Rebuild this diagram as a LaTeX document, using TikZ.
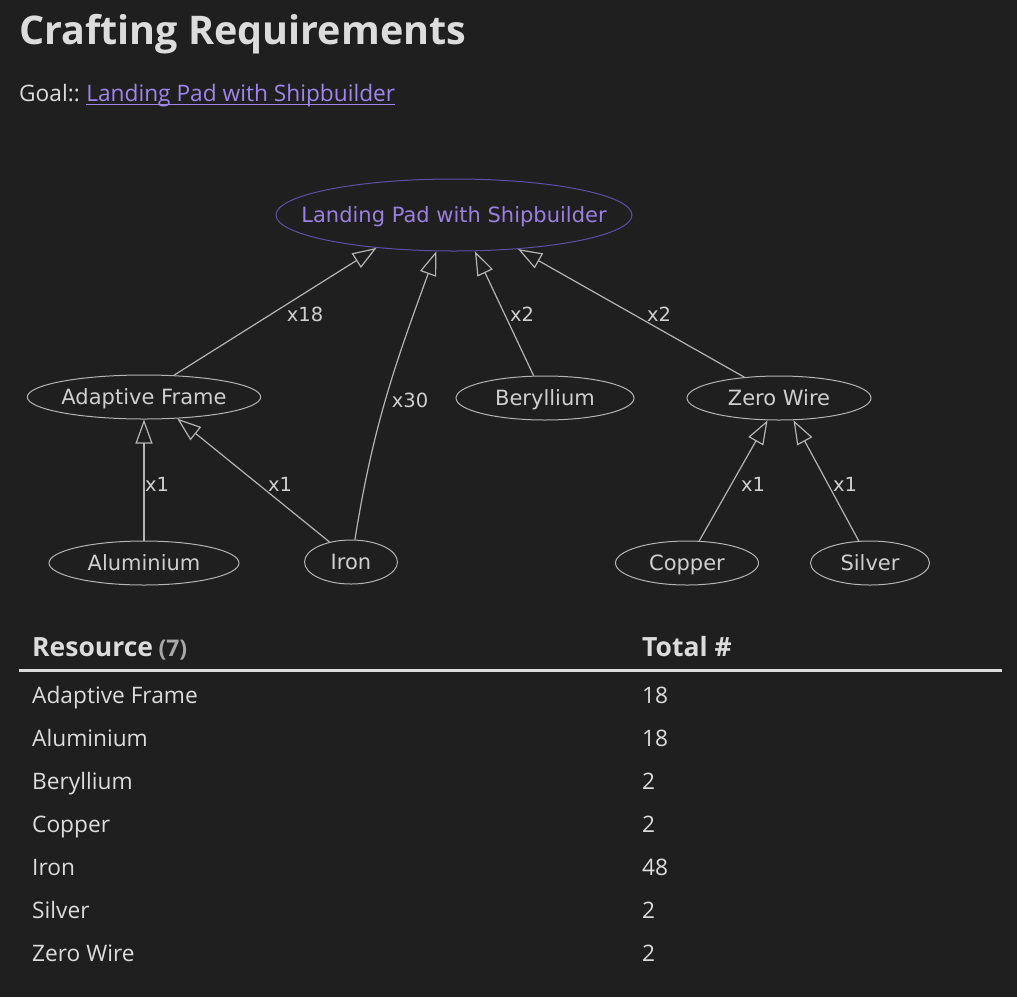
\documentclass[tikz,border=0pt]{standalone}
\usepackage{fontspec}
\setmainfont{Open Sans}
\newfontfamily\graphfont{DejaVu Sans}
\usetikzlibrary{arrows.meta,shapes.geometric}
\definecolor{bg}{HTML}{1F1F1F}
\definecolor{txt}{HTML}{DCDCDC}
\definecolor{dimtxt}{HTML}{A8A8A8}
\definecolor{link}{HTML}{9E86EA}
\definecolor{gline}{HTML}{B4B4B4}
\definecolor{gtext}{HTML}{CFCFCF}
\definecolor{gpurple}{HTML}{9A80E0}
\definecolor{gpurpleline}{HTML}{5E4FA6}
\tikzset{
  gnode/.style={ellipse, draw=gline, line width=1pt, inner sep=0pt, text=gtext,
    text height=15pt, text depth=0pt,
    font=\graphfont\fontsize{21}{24}\selectfont},
  goalnode/.style={gnode, draw=gpurpleline, text=gpurple, inner xsep=-27pt},
  lbl/.style={text=gtext, inner sep=0pt, font=\graphfont\fontsize{19.5}{22}\selectfont},
  req/.style={draw=gline, line width=1.2pt, -{Triangle[open, length=24pt, width=17pt, line width=1.2pt]}},
  mdtext/.style={text=txt, inner sep=0pt, anchor=base west, font=\fontsize{22.7}{26}\selectfont},
  mdhead/.style={text=txt, inner sep=0pt, anchor=base west, font=\bfseries\fontsize{26.5}{30}\selectfont},
}
\begin{document}
\begin{tikzpicture}[x=1pt, y=-1pt]
\useasboundingbox (0,0) rectangle (1017,997);
\fill[bg] (0,0) rectangle (1017,997);

% heading
\node[text=txt, inner sep=0pt, anchor=base west, font=\bfseries\fontsize{39.5}{44}\selectfont] (title) at (19,44) {Crafting Requirements};
\node[mdtext] (goal) at (19,101) {Goal::};
\node[mdtext, text=link] (goallink) at ([xshift=6pt]goal.base east) {Landing Pad with Shipbuilder};
\draw[link, line width=1.3pt] ([yshift=-3.5pt]goallink.base west) -- ([yshift=-3.5pt]goallink.base east);

% graph nodes
\node[goalnode, minimum width=356pt, minimum height=72pt] (pad) at (454,215) {Landing Pad with Shipbuilder};
\node[gnode, minimum width=232pt, minimum height=44pt] (frame) at (144,397) {Adaptive Frame};
\node[gnode, minimum width=178pt, minimum height=44pt] (beryl) at (545,398) {Beryllium};
\node[gnode, minimum width=184pt, minimum height=44pt] (wire) at (779,398) {Zero Wire};
\node[gnode, minimum width=190pt, minimum height=44pt] (alu) at (144,563) {Aluminium};
\node[gnode, minimum width=93pt, minimum height=44pt] (iron) at (351,562) {Iron};
\node[gnode, minimum width=143pt, minimum height=44pt] (copper) at (687,563) {Copper};
\node[gnode, minimum width=119pt, minimum height=44pt] (silver) at (870,563) {Silver};

% edges
\draw[req] (frame.36) -- (pad.203);
\draw[req] (iron.80) to[out=81, in=250] (pad.244);
\draw[req] (beryl.117) -- (pad.300);
\draw[req] (wire.149) -- (pad.332);
\draw[req] (alu.north) -- (frame.south);
\draw[req] (iron.137) -- (frame.327);
\draw[req] (copper.61) -- (wire.243);
\draw[req] (silver.117) -- (wire.303);

% edge labels
\node[lbl] (l1) at (305,314) {x18};
\node[lbl] (l2) at (410,400) {x30};
\node[lbl] (l3) at (522,314) {x2};
\node[lbl] (l4) at (659,314) {x2};
\node[lbl] (l5) at (157,484) {x1};
\node[lbl] (l6) at (280,484) {x1};
\node[lbl] (l7) at (753,484) {x1};
\node[lbl] (l8) at (845,484) {x1};

% table
\node[mdhead] (h1) at (32,656) {Resource};
\node[text=dimtxt, inner sep=0pt, anchor=base west, font=\bfseries\fontsize{23}{26}\selectfont] (h1n) at ([xshift=5pt]h1.base east) {(7)};
\node[mdhead] (h2) at (642,656) {Total \#};
\coordinate (rl) at (19,670);
\coordinate (rr) at (1002,670);
\draw[txt, line width=3pt] (rl) -- (rr);

\node[mdtext] (r1a) at (32,703) {Adaptive Frame};
\node[mdtext] (r1b) at (642,703) {18};
\node[mdtext] (r2a) at (32,746) {Aluminium};
\node[mdtext] (r2b) at (642,746) {18};
\node[mdtext] (r3a) at (32,789) {Beryllium};
\node[mdtext] (r3b) at (642,789) {2};
\node[mdtext] (r4a) at (32,832) {Copper};
\node[mdtext] (r4b) at (642,832) {2};
\node[mdtext] (r5a) at (32,875) {Iron};
\node[mdtext] (r5b) at (642,875) {48};
\node[mdtext] (r6a) at (32,918) {Silver};
\node[mdtext] (r6b) at (642,918) {2};
\node[mdtext] (r7a) at (32,961) {Zero Wire};
\node[mdtext] (r7b) at (642,961) {2};
\end{tikzpicture}
\end{document}
